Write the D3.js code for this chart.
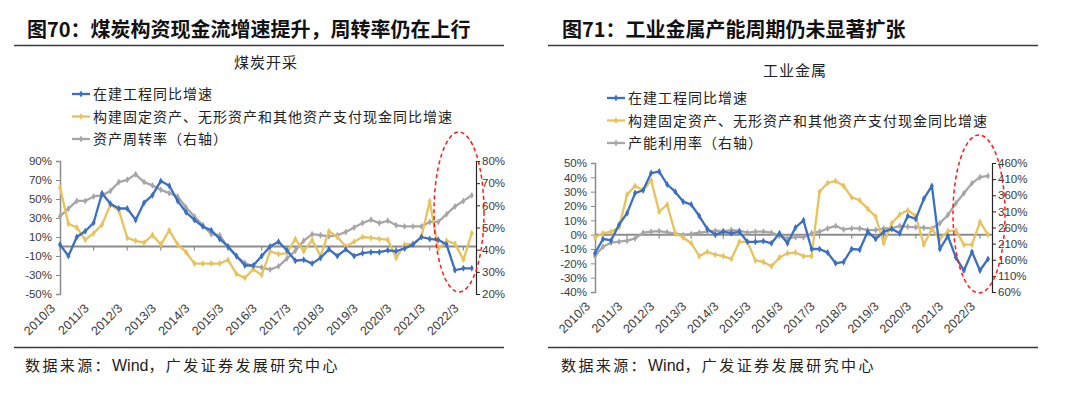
<!DOCTYPE html>
<html>
<head>
<meta charset="utf-8">
<script src="https://cdn.jsdelivr.net/npm/d3@7"></script>
<style>
  body { margin: 0; background: #fff; }
  svg text { font-family: "Liberation Sans", Arial, sans-serif; }
  svg text.cjk { font-family: "Noto Sans CJK SC", sans-serif; }
</style>
</head>
<body>
<svg id="vis" width="1080" height="394"></svg>
<script>
// quarterly dates shared by both panels
const quarters = [
  '2010/3', '2010/6', '2010/9', '2010/12', '2011/3', '2011/6', '2011/9', '2011/12',
  '2012/3', '2012/6', '2012/9', '2012/12', '2013/3', '2013/6', '2013/9', '2013/12',
  '2014/3', '2014/6', '2014/9', '2014/12', '2015/3', '2015/6', '2015/9', '2015/12',
  '2016/3', '2016/6', '2016/9', '2016/12', '2017/3', '2017/6', '2017/9', '2017/12',
  '2018/3', '2018/6', '2018/9', '2018/12', '2019/3', '2019/6', '2019/9', '2019/12',
  '2020/3', '2020/6', '2020/9', '2020/12', '2021/3', '2021/6', '2021/9', '2021/12',
  '2022/3', '2022/6'
];
const yearLabels = ['2010/3', '2011/3', '2012/3', '2013/3', '2014/3', '2015/3', '2016/3',
  '2017/3', '2018/3', '2019/3', '2020/3', '2021/3', '2022/3'];

const seriesNames = ['在建工程同比增速', '构建固定资产、无形资产和其他资产支付现金同比增速'];

// 煤炭开采 (%)
const coalWip = [2, -10, 10, 16, 25, 56, 45, 40, 40, 28,
  46, 54, 69, 64, 48, 36, 28, 21, 17, 8,
  0, -10, -20, -20, -10, 0, 5, -4, -15, -14,
  -18, -12, -3, -10, -3, -10, -7, -6, -6, -4,
  -5, -2, 2, 10, 8, 7, 2, -25, -23, -23];
const coalCapex = [62, 24, 20, 7, 14, 23, 44, 38, 9, 6,
  4, 12, 2, 17, 2, -6, -18, -18, -18, -18,
  -14, -29, -33, -24, -30, -5, -8, -7, 8, -5,
  7, -10, 16, 10, 0, 5, 10, 9, 8, 7,
  -12, 2, 3, 10, 48, -3, 6, 3, -14, 14];
const coalTurnover = [55, 58.5, 62, 62, 64, 64.5, 66.5, 70.5, 71.5, 74,
  70.5, 69, 67, 65.5, 64, 59, 55, 51, 47, 46.5,
  41, 37, 34, 32.5, 32, 31, 32.5, 36, 39.5, 44,
  47, 46.5, 46, 46.5, 48, 50, 52, 53.5, 52, 53,
  51, 50.5, 50.5, 50.5, 52.5, 52.5, 56, 59.5, 62, 64.5];
const coalLeftTicks = [-50, -30, -10, 10, 30, 50, 70, 90];
const coalRightTicks = [20, 30, 40, 50, 60, 70, 80];

// 工业金属 (%)
const metalWip = [-13, -3, -4, 7, 15, 29, 31, 43, 44, 35,
  30, 23, 21, 13, 4, 0, 2, 1, 2, -5,
  -5, -4.5, -6, 1, -6, 5, 10, -10, -10, -12.5,
  -20, -19, -10, -10.5, 2, -3, 2, 4, 1, 13,
  11, 25, 34, -10, -1, -16, -25, -12, -25, -17];
const metalCapex = [-2, 1, 2, 5, 28, 34, 31, 38, 16, 21,
  1, -2, -6, -15, -12, -14, -15, -17, -5, -5,
  -18, -19, -22, -16, -13, -12.5, -15, -15, 30, 36,
  37.5, 34, 26, 24, 18, 12.5, -6, 8, 14, 17,
  13, -7, 4, -3, 2.5, 3, -7, -7, 9, 0];
const metalUtil = [172, 200, 213, 216, 219, 226, 244, 247, 249, 245,
  242, 237, 240, 244, 247, 250, 249, 252, 250, 244,
  247, 247, 244, 234, 226, 230, 230, 242, 247, 257,
  265, 254, 257, 257, 252, 252, 257, 257, 265, 262,
  261, 259, 257, 273, 299, 335, 366, 397, 416, 420];
const metalLeftTicks = [-40, -30, -20, -10, 0, 10, 20, 30, 40, 50];
const metalRightTicks = [60, 110, 160, 210, 260, 310, 360, 410, 460];

const colors = { blue: '#3b6fc1', yellow: '#e6c35c', gray: '#a6a6a6' };

const svg = d3.select('#vis');

function drawPanel(p) {
  const g = svg.append('g');

  // figure heading and rules
  g.append('text').attr('class', 'cjk')
    .attr('x', p.headX).attr('y', 37)
    .attr('font-size', 20).attr('font-weight', 700).attr('fill', '#111')
    .text(p.heading);
  g.append('line')
    .attr('x1', p.ruleX1).attr('x2', p.ruleX2).attr('y1', 45.5).attr('y2', 45.5)
    .attr('stroke', '#3a3a3a').attr('stroke-width', 1.3);
  g.append('line')
    .attr('x1', p.ruleX1).attr('x2', p.ruleX2).attr('y1', 347.5).attr('y2', 347.5)
    .attr('stroke', '#3a3a3a').attr('stroke-width', 1.3);
  const src = g.append('text').attr('class', 'cjk')
    .attr('x', p.srcX).attr('y', 371)
    .attr('font-size', 15).attr('fill', '#222');
  src.append('tspan').attr('letter-spacing', 2.4).text('数据来源：');
  src.append('tspan').attr('font-family', 'Liberation Sans, Arial, sans-serif')
    .attr('font-size', 16).text('Wind');
  src.append('tspan').attr('letter-spacing', 2.4).text('，广发证券发展研究中心');

  // chart title
  g.append('text').attr('class', 'cjk')
    .attr('x', p.chartTitleX).attr('y', p.chartTitleY)
    .attr('text-anchor', 'middle')
    .attr('font-size', 15).attr('letter-spacing', 1).attr('fill', '#222')
    .text(p.chartTitle);

  // scales
  const x = d3.scaleLinear().domain([0, quarters.length - 0.5]).range([p.left, p.right]);
  const yL = d3.scaleLinear().domain(p.leftDomain).range([p.bottom, p.top]);
  const yR = d3.scaleLinear().domain(p.rightDomain).range([p.bottom, p.top]);

  // left axis
  const axL = g.append('g')
    .attr('transform', `translate(${p.left},0)`)
    .call(d3.axisLeft(yL).tickValues(p.leftTicks).tickSize(4).tickFormat(d => d + '%'));
  axL.select('.domain').attr('stroke', '#8c8c8c').attr('stroke-width', 1.5);
  axL.selectAll('.tick line').attr('stroke', '#8c8c8c');
  axL.selectAll('.tick text').attr('font-size', 11.5).attr('fill', '#3a3a3a')
    .attr('font-family', 'Liberation Sans, Arial, sans-serif').attr('x', -8);

  // right axis
  const axR = g.append('g')
    .attr('transform', `translate(${p.right},0)`)
    .call(d3.axisRight(yR).tickValues(p.rightTicks).tickSize(4).tickFormat(d => d + '%'));
  axR.select('.domain').attr('stroke', '#262626').attr('stroke-width', 1.2);
  axR.selectAll('.tick line').attr('stroke', '#262626');
  axR.selectAll('.tick text').attr('font-size', 11.5).attr('fill', '#3a3a3a')
    .attr('font-family', 'Liberation Sans, Arial, sans-serif').attr('x', 6);

  // category axis on the zero line, labels at bottom
  const yearIdx = yearLabels.map(lbl => quarters.indexOf(lbl));
  g.append('line')
    .attr('x1', p.left).attr('x2', p.right)
    .attr('y1', yL(0)).attr('y2', yL(0))
    .attr('stroke', '#8c8c8c').attr('stroke-width', 2);
  g.selectAll('.xtick')
    .data(yearIdx)
    .enter()
    .append('line')
    .attr('class', 'xtick')
    .attr('x1', d => x(d)).attr('x2', d => x(d))
    .attr('y1', yL(0)).attr('y2', yL(0) + 4)
    .attr('stroke', '#8c8c8c').attr('stroke-width', 1.2);
  g.selectAll('.xlabel')
    .data(yearIdx)
    .enter()
    .append('text')
    .attr('class', 'xlabel')
    .attr('transform', d => `translate(${x(d) - 4},${p.bottom + 15}) rotate(-45)`)
    .attr('text-anchor', 'end')
    .attr('font-size', 12.5).attr('fill', '#3a3a3a')
    .text((d, i) => yearLabels[i]);

  // series
  const series = [
    { values: p.wip, y: yL, color: colors.blue },
    { values: p.capex, y: yL, color: colors.yellow },
    { values: p.third, y: yR, color: colors.gray }
  ];
  const line = s => d3.line().x((d, i) => x(i)).y(d => s.y(d));

  series.slice().reverse().forEach(s => {
    g.append('path')
      .datum(s.values)
      .attr('d', line(s))
      .attr('fill', 'none')
      .attr('stroke', s.color)
      .attr('stroke-width', 2.3)
      .attr('stroke-linejoin', 'round');
    g.selectAll(null)
      .data(s.values)
      .enter()
      .append('path')
      .attr('d', d3.symbol(d3.symbolDiamond, 14))
      .attr('transform', (d, i) => `translate(${x(i)},${s.y(d)})`)
      .attr('fill', s.color);
  });

  // legend
  const legendNames = [seriesNames[0], seriesNames[1], p.thirdName];
  const legendColors = [colors.blue, colors.yellow, colors.gray];
  legendNames.forEach((name, i) => {
    const ly = p.legendY + i * 22.5;
    g.append('line')
      .attr('x1', p.legendX).attr('x2', p.legendX + 18)
      .attr('y1', ly).attr('y2', ly)
      .attr('stroke', legendColors[i]).attr('stroke-width', 2.3);
    g.append('path')
      .attr('d', d3.symbol(d3.symbolDiamond, 14))
      .attr('transform', `translate(${p.legendX + 9},${ly})`)
      .attr('fill', legendColors[i]);
    g.append('text').attr('class', 'cjk')
      .attr('x', p.legendX + 21).attr('y', ly + 5)
      .attr('font-size', 14).attr('letter-spacing', 1).attr('fill', '#222')
      .text(name);
  });

  // highlight ellipse
  g.append('ellipse')
    .attr('cx', p.ellipse[0]).attr('cy', p.ellipse[1])
    .attr('rx', p.ellipse[2]).attr('ry', p.ellipse[3])
    .attr('fill', 'none').attr('stroke', '#ff1a1a')
    .attr('stroke-width', 1.5).attr('stroke-dasharray', '4,3');
}

drawPanel({
  heading: '图70：煤炭构资现金流增速提升，周转率仍在上行',
  headX: 27, ruleX1: 14, ruleX2: 504, srcX: 25,
  chartTitle: '煤炭开采', chartTitleX: 266, chartTitleY: 68,
  left: 60, right: 476, top: 161, bottom: 294,
  leftDomain: [-50, 90], rightDomain: [20, 80],
  leftTicks: coalLeftTicks, rightTicks: coalRightTicks,
  wip: coalWip, capex: coalCapex, third: coalTurnover,
  thirdName: '资产周转率（右轴）',
  legendX: 72, legendY: 94,
  ellipse: [459, 212, 25, 80]
});

drawPanel({
  heading: '图71：工业金属产能周期仍未显著扩张',
  headX: 562, ruleX1: 548, ruleX2: 1038, srcX: 561,
  chartTitle: '工业金属', chartTitleX: 795, chartTitleY: 76,
  left: 595, right: 992, top: 163, bottom: 292,
  leftDomain: [-40, 50], rightDomain: [60, 460],
  leftTicks: metalLeftTicks, rightTicks: metalRightTicks,
  wip: metalWip, capex: metalCapex, third: metalUtil,
  thirdName: '产能利用率（右轴）',
  legendX: 607, legendY: 98,
  ellipse: [979, 214, 26, 79]
});
</script>
</body>
</html>
